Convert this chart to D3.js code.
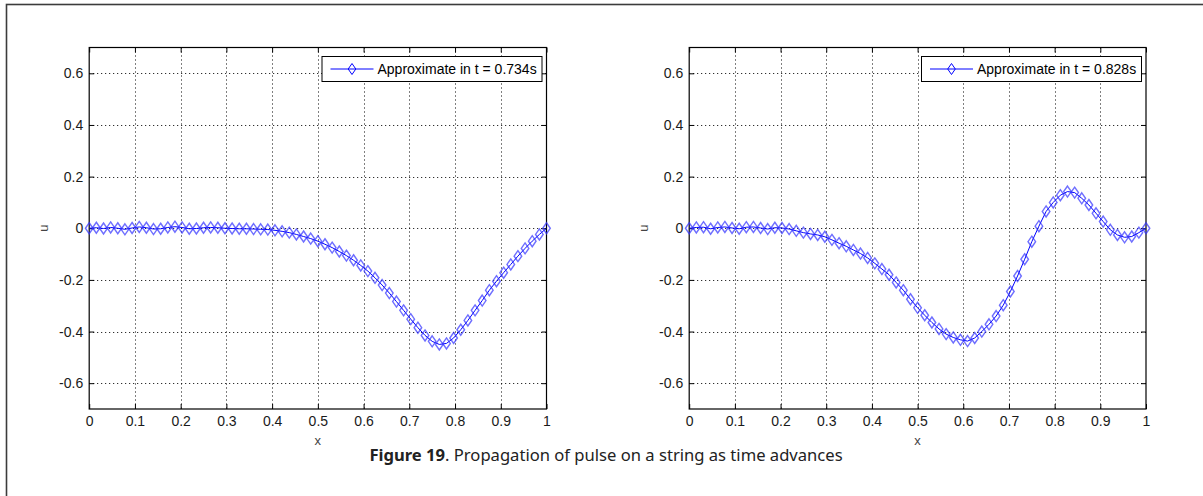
<!DOCTYPE html>
<html><head><meta charset="utf-8">
<script src="https://cdn.jsdelivr.net/npm/d3@7"></script>
<style>body{margin:0;background:#fff}svg{display:block}</style>
</head><body>
<svg id="c" width="1203" height="496"></svg>
<script>
const xValues = [0.0000,0.0156,0.0313,0.0469,0.0625,0.0781,0.0938,0.1094,0.1250,0.1406,0.1563,0.1719,0.1875,0.2031,0.2188,0.2344,0.2500,0.2656,0.2813,0.2969,0.3125,0.3281,0.3438,0.3594,0.3750,0.3906,0.4063,0.4219,0.4375,0.4531,0.4688,0.4844,0.5000,0.5156,0.5313,0.5469,0.5625,0.5781,0.5938,0.6094,0.6250,0.6406,0.6563,0.6719,0.6875,0.7031,0.7188,0.7344,0.7500,0.7656,0.7813,0.7969,0.8125,0.8281,0.8438,0.8594,0.8750,0.8906,0.9063,0.9219,0.9375,0.9531,0.9688,0.9844,1.0000];
const uT0734 = [0.000,0.002,-0.001,0.003,0.000,-0.004,0.001,0.005,0.002,-0.003,
 -0.002,0.003,0.006,0.003,-0.002,-0.001,0.002,0.003,0.002,0.000,
 -0.001,-0.002,-0.002,-0.003,-0.004,-0.005,-0.008,-0.012,-0.017,-0.024,
 -0.032,-0.040,-0.050,-0.062,-0.075,-0.090,-0.106,-0.124,-0.144,-0.166,
 -0.192,-0.220,-0.251,-0.284,-0.318,-0.352,-0.385,-0.415,-0.438,-0.450,
 -0.446,-0.425,-0.393,-0.357,-0.318,-0.280,-0.240,-0.205,-0.172,-0.140,
 -0.108,-0.078,-0.050,-0.024,0.000];
const uT0828 = [0.000,0.003,0.004,-0.002,0.003,0.005,0.001,-0.002,0.004,0.005,
 0.001,-0.003,0.002,0.001,-0.003,-0.010,-0.017,-0.022,-0.026,-0.033,
 -0.045,-0.058,-0.070,-0.084,-0.098,-0.115,-0.136,-0.158,-0.180,-0.210,
 -0.240,-0.275,-0.308,-0.337,-0.365,-0.390,-0.410,-0.423,-0.432,-0.437,
 -0.425,-0.400,-0.372,-0.340,-0.298,-0.245,-0.185,-0.120,-0.052,0.008,
 0.065,0.100,0.128,0.142,0.138,0.116,0.090,0.058,0.026,-0.006,
 -0.026,-0.035,-0.032,-0.017,0.000];
const xTicks = [0,0.1,0.2,0.3,0.4,0.5,0.6,0.7,0.8,0.9,1];
const xTickLabels = ["0","0.1","0.2","0.3","0.4","0.5","0.6","0.7","0.8","0.9","1"];
const yTicks = [-0.6,-0.4,-0.2,0,0.2,0.4,0.6];
const yTickLabels = ["-0.6","-0.4","-0.2","0","0.2","0.4","0.6"];
const legendLabels = ["Approximate in t = 0.734s","Approximate in t = 0.828s"];
const panels = [
  {u: uT0734, label: legendLabels[0], left: 89.2, right: 546.5},
  {u: uT0828, label: legendLabels[1], left: 689.2, right: 1146}
];

const svg = d3.select("#c");
const FONT = "'Liberation Sans', Arial, sans-serif";

// outer figure frame
svg.append("rect").attr("x",6.5).attr("y",4.5).attr("width",1400).attr("height",700)
  .attr("fill","none").attr("stroke","#3c3c3c").attr("stroke-width",1.6);

const yTop = 47.5, yBottom = 409;
const y = d3.scaleLinear().domain([-0.7,0.7]).range([yBottom, yTop]);

panels.forEach(p => {
  const x = d3.scaleLinear().domain([0,1]).range([p.left, p.right]);
  const g = svg.append("g");
  // grid
  g.selectAll(".gx").data(xTicks.slice(1,-1)).join("line")
    .attr("x1",d=>Math.round(x(d))+0.5).attr("x2",d=>Math.round(x(d))+0.5)
    .attr("y1",yTop).attr("y2",yBottom)
    .attr("stroke","#000").attr("stroke-width",1).attr("stroke-dasharray","1,3");
  g.selectAll(".gy").data(yTicks).join("line")
    .attr("y1",d=>Math.round(y(d))+0.5).attr("y2",d=>Math.round(y(d))+0.5)
    .attr("x1",p.left).attr("x2",p.right)
    .attr("stroke","#000").attr("stroke-width",1).attr("stroke-dasharray","1,3");

  const styleAxis = sel => {
    sel.select(".domain").remove();
    sel.selectAll(".tick line").attr("stroke","#000");
    sel.selectAll(".tick text").attr("font-family",FONT).attr("font-size","14px").attr("fill","#1a1a1a");
  };
  g.append("g").attr("transform",`translate(0,${yBottom})`)
    .call(d3.axisBottom(x).tickValues(xTicks).tickFormat((d,i)=>xTickLabels[i]).tickSize(-5).tickPadding(7))
    .call(styleAxis);
  g.append("g").attr("transform",`translate(0,${yTop})`)
    .call(d3.axisTop(x).tickValues(xTicks).tickFormat("").tickSize(-5))
    .call(styleAxis);
  g.append("g").attr("transform",`translate(${p.left},0)`)
    .call(d3.axisLeft(y).tickValues(yTicks).tickFormat((d,i)=>yTickLabels[i]).tickSize(-5).tickPadding(6))
    .call(styleAxis);
  g.append("g").attr("transform",`translate(${p.right},0)`)
    .call(d3.axisRight(y).tickValues(yTicks).tickFormat("").tickSize(-5))
    .call(styleAxis);

  // box
  g.append("rect").attr("x",p.left).attr("y",yTop).attr("width",p.right-p.left).attr("height",yBottom-yTop)
    .attr("fill","none").attr("stroke","#000").attr("stroke-width",1.2);

  // axis labels
  g.append("text").attr("x",(p.left+p.right)/2).attr("y",445).attr("text-anchor","middle")
    .attr("font-family",FONT).attr("font-size","13px").attr("fill","#444").text("x");
  g.append("text").attr("transform",`translate(${p.left-41},${y(0)}) rotate(-90)`).attr("text-anchor","middle")
    .attr("font-family",FONT).attr("font-size","13px").attr("fill","#444").text("u");

  // data
  const pts = xValues.map((xv,i)=>[xv,p.u[i]]);
  const line = d3.line().x(d=>x(d[0])).y(d=>y(d[1]));
  g.append("path").datum(pts).attr("d",line).attr("fill","none").attr("stroke","#0000ff").attr("stroke-width",1);
  const dia = "M0,-5.5L3.8,0L0,5.5L-3.8,0Z";
  g.selectAll(".m").data(pts).join("path")
    .attr("transform",d=>`translate(${x(d[0])},${y(d[1])})`)
    .attr("d",dia).attr("fill","none").attr("stroke","#3030ff").attr("stroke-opacity",0.7).attr("stroke-width",1.4);

  // legend
  const lx = p.right - 225, ly = 56, lw = 220, lh = 25;
  const lg = g.append("g");
  lg.append("rect").attr("x",lx+0.5).attr("y",ly+0.5).attr("width",lw).attr("height",lh)
    .attr("fill","#fff").attr("stroke","#000").attr("stroke-width",1);
  lg.append("line").attr("x1",lx+9).attr("x2",lx+52).attr("y1",ly+13).attr("y2",ly+13)
    .attr("stroke","#0000ff").attr("stroke-width",1);
  lg.append("path").attr("transform",`translate(${lx+30.5},${ly+13})`).attr("d",dia)
    .attr("fill","none").attr("stroke","#0000ff").attr("stroke-width",1);
  lg.append("text").attr("x",lx+56).attr("y",ly+18).attr("font-family",FONT).attr("font-size","14px")
    .attr("fill","#000").text(p.label);
});

// caption
const cap = svg.append("text").attr("x",606).attr("y",461).attr("text-anchor","middle")
  .attr("font-family","'Noto Sans', 'Open Sans', sans-serif").attr("font-size","16.6px").attr("fill","#222");
cap.append("tspan").attr("font-weight","bold").text("Figure 19");
cap.append("tspan").text(". Propagation of pulse on a string as time advances");
</script>
</body></html>
